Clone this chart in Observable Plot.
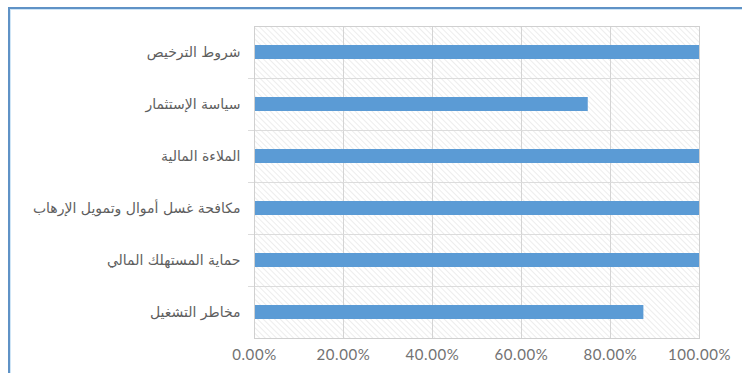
<!DOCTYPE html>
<html>
<head>
<meta charset="utf-8">
<script src="https://cdn.jsdelivr.net/npm/d3@7"></script>
<script src="https://cdn.jsdelivr.net/npm/@observablehq/plot@0.6"></script>
<style>
  html, body { margin: 0; padding: 0; background: #ffffff; }
  #wrap { position: relative; width: 742px; height: 373px; overflow: hidden; }
  #border { position: absolute; left: 8px; top: 7px; width: 800px; height: 400px;
    border-left: 2px solid #5f92c6; border-top: 2px solid #5f92c6;
    box-shadow: inset 1px 1px 0 #cfe5f6; pointer-events: none; }
  #chart { position: absolute; left: 0; top: 0; }
  .xax text { letter-spacing: 0.6px; }
</style>
</head>
<body>
<div id="wrap"><div id="chart"></div><div id="border"></div></div>
<script>
const categories = [
  "شروط الترخيص",
  "سياسة الإستثمار",
  "الملاءة المالية",
  "مكافحة غسل أموال وتمويل الإرهاب",
  "حماية المستهلك المالي",
  "مخاطر التشغيل"
];
const values = [1.0, 0.75, 1.0, 1.0, 1.0, 0.875];
const xTicks = [0, 0.2, 0.4, 0.6, 0.8, 1.0];

const data = categories.map((c, i) => ({category: c, value: values[i]}));

const W = 742, H = 373;
const mTop = 26, mBottom = 35, mLeft = 254, mRight = 43;
const step = (H - mTop - mBottom) / categories.length;

const plot = Plot.plot({
  width: W,
  height: H,
  marginTop: mTop,
  marginBottom: mBottom,
  marginLeft: mLeft,
  marginRight: mRight,
  style: {fontFamily: "'DejaVu Sans', 'Noto Sans', sans-serif", background: "transparent"},
  x: {domain: [0, 1], ticks: xTicks, tickFormat: d => (d * 100).toFixed(2) + "%", tickSize: 0, tickPadding: 10, label: null},
  y: {domain: categories, paddingInner: 0.73, paddingOuter: 0.365, tickSize: 0, tickPadding: 14, label: null},
  marks: [
    Plot.frame({fill: "url(#hatch)", stroke: "none"}),
    Plot.ruleX(xTicks.slice(1, -1), {stroke: "#d4d4d4", strokeWidth: 1}),
    Plot.ruleY(categories.slice(1), {y: d => d, dy: -step / 2, stroke: "#dcdcdc", strokeWidth: 1, insetLeft: -6}),
    Plot.barX(data, {x: "value", y: "category", fill: "#5b9bd5"}),
    Plot.frame({stroke: "#d0d0d0", strokeWidth: 1}),
    Plot.axisY({tickSize: 0, tickPadding: 14, fontSize: 14, fill: "#5e5e5e", fontFamily: "'DejaVu Sans', sans-serif"}),
    Plot.axisX({ticks: xTicks, tickFormat: d => (d * 100).toFixed(2) + "%", tickSize: 0, tickPadding: 11, fontSize: 15, fill: "#727272", fontFamily: "Lato, 'Open Sans', sans-serif", className: "xax"})
  ]
});

// hatch pattern definition
const svg = d3.select(plot);
const defs = svg.insert("defs", ":first-child");
const pat = defs.append("pattern")
  .attr("id", "hatch")
  .attr("patternUnits", "userSpaceOnUse")
  .attr("width", 4)
  .attr("height", 4)
  .attr("patternTransform", "rotate(-45)");
pat.append("rect").attr("width", 4).attr("height", 4).attr("fill", "#ffffff");
pat.append("line").attr("x1", 0).attr("y1", 0).attr("x2", 0).attr("y2", 4)
  .attr("stroke", "#e4e4e4").attr("stroke-width", 1.3);

document.getElementById("chart").appendChild(plot);
</script>
</body>
</html>
